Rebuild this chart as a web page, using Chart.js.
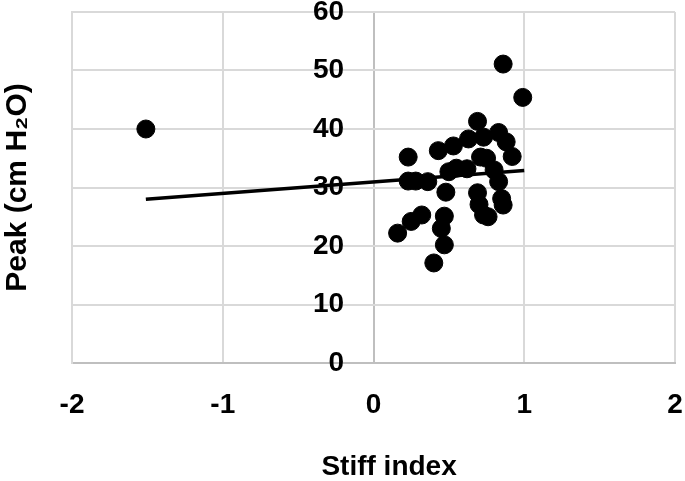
<!DOCTYPE html>
<html>
<head>
<meta charset="utf-8">
<script src="https://cdn.jsdelivr.net/npm/chart.js@4.4.1/dist/chart.umd.min.js"></script>
<style>
  html, body { margin: 0; padding: 0; background: #fff; }
  #wrap { width: 685px; height: 481px; position: relative; }
</style>
</head>
<body>
<div id="wrap"><canvas id="peakChart"></canvas></div>
<script>
// stiff index (x) / peak pressure (y)
const stiffIndex = [
  -1.51, 0.86, 0.99, 0.69, 0.23, 0.43, 0.53, 0.63, 0.83, 0.88,
  0.92, 0.71, 0.75, 0.50, 0.55, 0.62, 0.80, 0.83, 0.23, 0.28,
  0.36, 0.48, 0.69, 0.85, 0.70, 0.86, 0.73, 0.76, 0.32, 0.25,
  0.16, 0.47, 0.45, 0.47, 0.40, 0.73
];
const peakValues = [
  40.0, 51.1, 45.4, 41.3, 35.2, 36.3, 37.1, 38.3, 39.4, 37.8,
  35.3, 35.2, 35.0, 32.7, 33.3, 33.2, 33.0, 31.0, 31.1, 31.1,
  31.0, 29.2, 29.1, 28.1, 27.1, 27.0, 25.3, 25.0, 25.3, 24.2,
  22.2, 25.1, 23.0, 20.2, 17.1, 38.6
];

// linear trend line ends
const trendX = [-1.51, 1.0];
const trendY = [28.0, 32.9];

const xTicks = [-2, -1, 0, 1, 2];
const yTicks = [0, 10, 20, 30, 40, 50, 60];

const gridGray = '#d9d9d9';
const axisGray = '#bfbfbf';
const tickFont = { family: 'Liberation Sans', size: 28, weight: 'bold' };

const scatterPoints = stiffIndex.map((x, i) => ({ x: x, y: peakValues[i] }));
const trendPoints = trendX.map((x, i) => ({ x: x, y: trendY[i] }));

const ctx = document.getElementById('peakChart').getContext('2d');
new Chart(ctx, {
  type: 'scatter',
  data: {
    datasets: [
      {
        label: 'Peak',
        data: scatterPoints,
        backgroundColor: '#000',
        borderColor: '#000',
        borderWidth: 1,
        pointRadius: 9,
        pointHoverRadius: 9
      },
      {
        label: 'Linear',
        type: 'line',
        data: trendPoints,
        borderColor: '#000',
        borderWidth: 3.5,
        pointRadius: 0,
        fill: false
      }
    ]
  },
  options: {
    responsive: true,
    maintainAspectRatio: false,
    animation: false,
    layout: { padding: { top: 12, right: 8, left: 0, bottom: 0 } },
    plugins: {
      legend: { display: false },
      tooltip: { enabled: false }
    },
    scales: {
      x: {
        type: 'linear',
        min: xTicks[0],
        max: xTicks[xTicks.length - 1],
        afterBuildTicks: s => { s.ticks = xTicks.map(v => ({ value: v })); },
        afterFit: s => { s.height = 118; },
        grid: {
          drawTicks: true,
          tickLength: 25,
          tickColor: 'rgba(0,0,0,0)',
          lineWidth: 2,
          color: c => (c.tick && c.tick.value === 0) ? axisGray : gridGray
        },
        border: { color: axisGray, width: 2 },
        ticks: { color: '#000', font: tickFont, padding: 0 },
        title: {
          display: true,
          text: '    Stiff index',
          color: '#000',
          font: { family: 'Liberation Sans', size: 28, weight: 'bold', lineHeight: 1 },
          padding: { top: 0, bottom: 0 }
        }
      },
      y: {
        type: 'linear',
        min: yTicks[0],
        max: yTicks[yTicks.length - 1],
        afterBuildTicks: s => { s.ticks = yTicks.map(v => ({ value: v })); },
        afterFit: s => {
          // labels sit next to x = 0, keep them out of the layout
          s.width = 72;
          s.paddingTop = 0;
          s.paddingBottom = 0;
        },
        grid: { drawTicks: false, lineWidth: 2, color: gridGray },
        border: { color: gridGray, width: 2 },
        ticks: { color: '#000', font: tickFont, mirror: true, crossAlign: 'far', padding: 241 },
        title: {
          display: true,
          text: 'Peak (cm H\u2082O)',
          color: '#000',
          font: { family: 'Liberation Sans', size: 30, weight: 'bold', lineHeight: 1 },
          padding: { top: 3, bottom: 0 }
        }
      }
    }
  }
});
</script>
</body>
</html>
